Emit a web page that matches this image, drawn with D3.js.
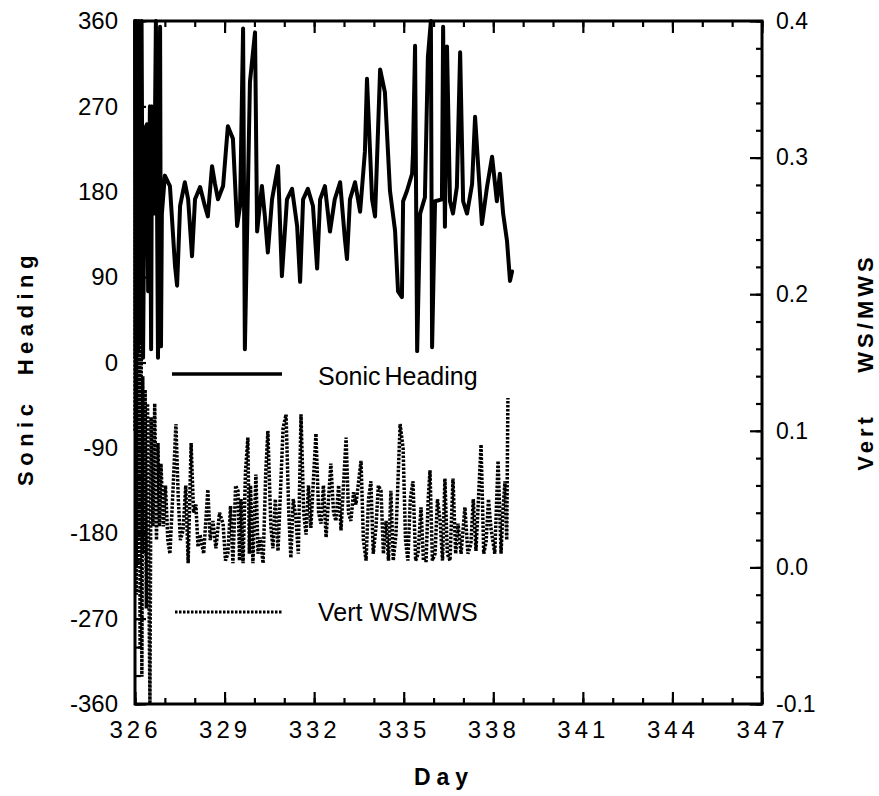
<!DOCTYPE html>
<html>
<head>
<meta charset="utf-8">
<script src="https://cdn.jsdelivr.net/npm/d3@7/dist/d3.min.js"></script>
<style>
  body { margin: 0; background: #fff; }
  text { font-family: "Liberation Sans", Arial, Helvetica, sans-serif; fill: #000; }
</style>
</head>
<body>
<script>
// Sonic heading (deg, left axis) against day
var headDays = [326.00, 326.02, 326.04, 326.06, 326.08, 326.10, 326.12, 326.14, 326.16, 326.19,
  326.22, 326.27, 326.33, 326.40, 326.44, 326.50, 326.54, 326.57, 326.64, 326.70,
  326.77, 326.84, 326.87, 326.90,
  327.00, 327.17, 327.34, 327.41, 327.51, 327.67, 327.78, 327.91, 328.01, 328.18,
  328.34, 328.44, 328.58, 328.68, 328.78, 328.95, 329.11, 329.28, 329.42, 329.52,
  329.62, 329.68, 329.85, 330.02, 330.09, 330.25, 330.35, 330.45, 330.59, 330.79,
  330.92, 331.09, 331.26, 331.43, 331.53, 331.63, 331.79, 331.96, 332.10, 332.20,
  332.36, 332.53, 332.69, 332.87, 333.03, 333.10, 333.20, 333.37, 333.54, 333.70,
  333.77, 333.94, 334.04, 334.21, 334.37, 334.54, 334.71, 334.81, 334.94, 334.98,
  335.11, 335.28, 335.31, 335.38, 335.45, 335.55, 335.71, 335.81, 335.91, 335.95,
  336.05, 336.28, 336.32, 336.38, 336.45, 336.55, 336.65, 336.78, 336.89, 336.99,
  337.12, 337.29, 337.39, 337.49, 337.62, 337.79, 337.96, 338.12, 338.22, 338.33,
  338.46, 338.56, 338.63];
var heading = [360, 5, 360, 8, 358, 12, 360, 20, 355, 30,
  360, 5, 246, 251, 75, 270, 14, 270, 157, 360,
  5, 354, 17, 157,
  197, 186, 102, 81, 165, 190, 172, 112, 172, 185,
  165, 154, 207, 188, 172, 186, 249, 236, 144, 165,
  352, 14, 296, 348, 138, 186, 154, 116, 172, 207,
  91, 172, 183, 144, 85, 172, 183, 165, 99, 172,
  186, 138, 172, 190, 130, 109, 172, 190, 159, 222,
  299, 172, 154, 309, 285, 181, 139, 75, 69, 170,
  181, 199, 220, 334, 12, 157, 174, 322, 360, 16,
  170, 172, 354, 143, 333, 170, 157, 185, 327, 170,
  157, 188, 259, 209, 146, 185, 217, 170, 199, 157,
  128, 86, 96];

// Vert WS/MWS (right axis) against day
var vertDays = [326.00, 326.02, 326.04, 326.06, 326.08, 326.10, 326.12, 326.14, 326.17, 326.20,
  326.23, 326.26, 326.30, 326.34, 326.38, 326.42, 326.46, 326.50, 326.54, 326.60,
  326.66, 326.72, 326.77, 326.82, 326.87, 326.95, 327.02, 327.10, 327.17, 327.28,
  327.37, 327.45, 327.52, 327.61, 327.70, 327.78, 327.88, 327.96, 328.04, 328.11,
  328.18, 328.30, 328.44, 328.52, 328.61, 328.71, 328.83, 328.95, 329.03, 329.11,
  329.20, 329.28, 329.37, 329.45, 329.50, 329.55, 329.62, 329.70, 329.78, 329.83,
  329.87, 329.95, 330.05, 330.12, 330.19, 330.29, 330.38, 330.45, 330.55, 330.62,
  330.70, 330.79, 330.96, 331.06, 331.15, 331.22, 331.30, 331.39, 331.47, 331.56,
  331.65, 331.73, 331.81, 331.89, 332.06, 332.15, 332.23, 332.31, 332.40, 332.56,
  332.65, 332.73, 332.82, 332.90, 333.07, 333.15, 333.23, 333.32, 333.40, 333.57,
  333.65, 333.74, 333.82, 333.90, 333.98, 334.07, 334.15, 334.24, 334.32, 334.41,
  334.49, 334.57, 334.65, 334.74, 334.88, 334.98, 335.06, 335.14, 335.22, 335.31,
  335.40, 335.48, 335.58, 335.66, 335.75, 335.82, 335.88, 335.96, 336.05, 336.13,
  336.22, 336.30, 336.38, 336.46, 336.55, 336.65, 336.74, 336.82, 336.92, 337.05,
  337.15, 337.25, 337.33, 337.42, 337.59, 337.68, 337.76, 337.84, 337.92, 338.05,
  338.16, 338.26, 338.32, 338.39, 338.45, 338.49];
var vertWS = [0.10, 0.38, -0.02, 0.40, 0.00, 0.36, 0.02, 0.30, -0.06, 0.25,
  -0.08, 0.14, 0.01, 0.13, -0.03, 0.12, 0.00, -0.10, 0.11, 0.03,
  0.12, 0.02, 0.091, 0.03, 0.076, 0.03, 0.06, 0.02, 0.010, 0.06,
  0.105, 0.05, 0.02, 0.027, 0.06, 0.003, 0.091, 0.04, 0.046, 0.015,
  0.024, 0.01, 0.057, 0.02, 0.034, 0.014, 0.04, 0.032, 0.005, 0.010,
  0.045, 0.003, 0.06, 0.056, 0.005, 0.05, 0.003, 0.07, 0.095, 0.01,
  0.06, 0.003, 0.068, 0.01, 0.022, 0.003, 0.07, 0.100, 0.03, 0.014,
  0.05, 0.012, 0.102, 0.112, 0.04, 0.007, 0.05, 0.036, 0.01, 0.112,
  0.04, 0.024, 0.06, 0.029, 0.098, 0.04, 0.032, 0.06, 0.022, 0.076,
  0.04, 0.034, 0.06, 0.027, 0.095, 0.04, 0.034, 0.055, 0.046, 0.078,
  0.02, 0.005, 0.05, 0.063, 0.01, 0.029, 0.06, 0.056, 0.01, 0.034,
  0.005, 0.056, 0.005, 0.024, 0.105, 0.087, 0.02, 0.005, 0.05, 0.063,
  0.005, 0.010, 0.044, 0.005, 0.005, 0.05, 0.071, 0.005, 0.010, 0.05,
  0.034, 0.005, 0.065, 0.01, 0.005, 0.065, 0.01, 0.032, 0.010, 0.044,
  0.01, 0.017, 0.05, 0.012, 0.090, 0.01, 0.019, 0.05, 0.029, 0.01,
  0.078, 0.010, 0.04, 0.063, 0.02, 0.124];

var dayTicks = [326, 329, 332, 335, 338, 341, 344, 347];
var headTicks = [-360, -270, -180, -90, 0, 90, 180, 270, 360];
var vertTicks = [-0.1, 0.0, 0.1, 0.2, 0.3, 0.4];
var legendNames = ["Sonic Heading", "Vert WS/MWS"];

var width = 879, height = 796;
var plotL = 135, plotR = 762, plotT = 21, plotB = 704;

var svg = d3.select("body").append("svg")
  .attr("width", width)
  .attr("height", height);

var x = d3.scaleLinear().domain([326, 347]).range([plotL, plotR]);
var yL = d3.scaleLinear().domain([-360, 360]).range([plotB, plotT]);
var yR = d3.scaleLinear().domain([-0.1, 0.4]).range([plotB, plotT]);

// minor ticks
var dayMinor = d3.range(326, 348, 1);
var headMinor = d3.range(-360, 361, 30);
var vertMinor = d3.range(-0.1, 0.4001, 0.02);

function cleanAxis(g) {
  g.select(".domain").remove();
  g.selectAll(".tick line").attr("stroke", "#000").attr("stroke-width", 2.2);
}

// bottom
svg.append("g").attr("transform", "translate(0," + plotB + ")")
  .call(d3.axisBottom(x).tickValues(dayMinor).tickSize(-6).tickFormat(""))
  .call(cleanAxis);
svg.append("g").attr("transform", "translate(0," + plotB + ")")
  .call(d3.axisBottom(x).tickValues(dayTicks).tickSize(-12).tickPadding(17)
    .tickFormat(function(d) { return String(d); }))
  .call(cleanAxis)
  .selectAll("text")
  .style("font-size", "24px")
  .style("letter-spacing", "4px");
// top
svg.append("g").attr("transform", "translate(0," + plotT + ")")
  .call(d3.axisTop(x).tickValues(dayMinor).tickSize(-6).tickFormat(""))
  .call(cleanAxis);
svg.append("g").attr("transform", "translate(0," + plotT + ")")
  .call(d3.axisTop(x).tickValues(dayTicks).tickSize(-12).tickFormat(""))
  .call(cleanAxis);
// left
svg.append("g").attr("transform", "translate(" + plotL + ",0)")
  .call(d3.axisLeft(yL).tickValues(headMinor).tickSize(-6).tickFormat(""))
  .call(cleanAxis);
svg.append("g").attr("transform", "translate(" + plotL + ",0)")
  .call(d3.axisLeft(yL).tickValues(headTicks).tickSize(-11).tickPadding(17)
    .tickFormat(function(d) { return String(d); }))
  .call(cleanAxis)
  .selectAll("text")
  .style("font-size", "24px");
// right
svg.append("g").attr("transform", "translate(" + plotR + ",0)")
  .call(d3.axisRight(yR).tickValues(vertMinor).tickSize(-6).tickFormat(""))
  .call(cleanAxis);
svg.append("g").attr("transform", "translate(" + plotR + ",0)")
  .call(d3.axisRight(yR).tickValues(vertTicks).tickSize(-12).tickPadding(14)
    .tickFormat(function(d) { return d.toFixed(1); }))
  .call(cleanAxis)
  .selectAll("text")
  .style("font-size", "23px");

// frame
svg.append("rect")
  .attr("x", plotL).attr("y", plotT)
  .attr("width", plotR - plotL).attr("height", plotB - plotT)
  .attr("fill", "none").attr("stroke", "#000").attr("stroke-width", 3);

// data lines
var headLine = d3.line()
  .x(function(d, i) { return x(headDays[i]); })
  .y(function(d) { return yL(d); });
var vertLine = d3.line()
  .x(function(d, i) { return x(vertDays[i]); })
  .y(function(d) { return yR(d); });

svg.append("path")
  .datum(vertWS)
  .attr("d", vertLine)
  .attr("fill", "none")
  .attr("stroke", "#000")
  .attr("stroke-width", 3.5)
  .attr("stroke-dasharray", "2.5,1.5");

svg.append("path")
  .datum(heading)
  .attr("d", headLine)
  .attr("fill", "none")
  .attr("stroke", "#000")
  .attr("stroke-width", 4)
  .attr("stroke-linejoin", "round")
  .attr("stroke-linecap", "round");

// legend
svg.append("line")
  .attr("x1", 172).attr("x2", 282).attr("y1", 374).attr("y2", 374)
  .attr("stroke", "#000").attr("stroke-width", 3.5);
svg.append("text").attr("x", 318).attr("y", 385)
  .style("font-size", "25px").style("word-spacing", "-3px")
  .text(legendNames[0]);
svg.append("line")
  .attr("x1", 175).attr("x2", 282).attr("y1", 612).attr("y2", 612)
  .attr("stroke", "#000").attr("stroke-width", 3)
  .attr("stroke-dasharray", "2.5,1.5");
svg.append("text").attr("x", 318).attr("y", 621)
  .style("font-size", "25px")
  .text(legendNames[1]);

// axis titles
svg.append("text")
  .attr("transform", "translate(33,368) rotate(-90)")
  .attr("text-anchor", "middle")
  .style("font-size", "22px").style("font-weight", "bold")
  .style("letter-spacing", "5.5px").style("white-space", "pre")
  .text("Sonic  Heading");
svg.append("text")
  .attr("transform", "translate(873,362) rotate(-90)")
  .attr("text-anchor", "middle")
  .style("font-size", "22px").style("font-weight", "bold")
  .style("letter-spacing", "4px").style("white-space", "pre")
  .text("Vert    WS/MWS");
svg.append("text")
  .attr("x", 444).attr("y", 785)
  .attr("text-anchor", "middle")
  .style("font-size", "23px").style("font-weight", "bold")
  .style("letter-spacing", "6px")
  .text("Day");
</script>
</body>
</html>
